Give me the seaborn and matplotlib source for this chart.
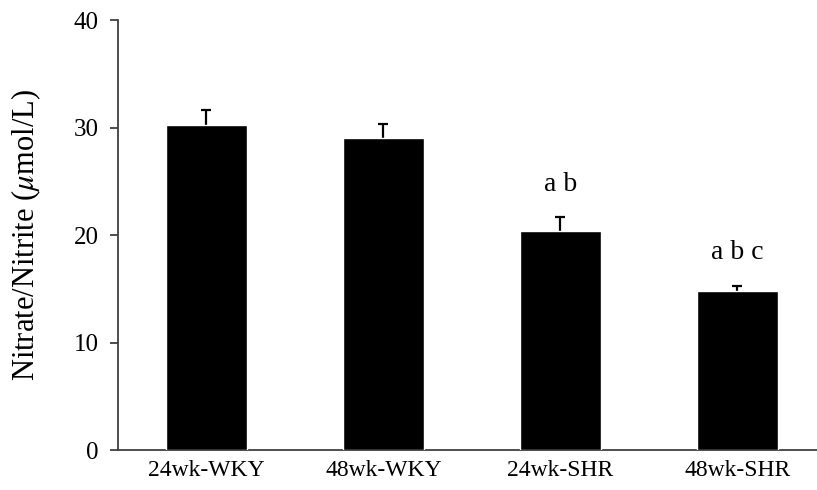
import matplotlib
matplotlib.use("Agg")
import matplotlib.pyplot as plt
import numpy as np
import pandas as pd
import seaborn as sns

groups = ["24wk-WKY", "48wk-WKY", "24wk-SHR", "48wk-SHR"]
means = [30.2, 29.05, 20.4, 14.8]
sems = [1.45, 1.25, 1.3, 0.45]
letters = ["", "", "a b", "a b c"]
letter_y = [0, 0, 24.7, 18.4]

data = pd.DataFrame({"group": groups, "value": means})

sns.set_style("white")
plt.rcParams["font.family"] = ["Liberation Serif", "DejaVu Serif"]
plt.rcParams["mathtext.fontset"] = "stix"
plt.rcParams["text.color"] = "black"
plt.rcParams["axes.labelcolor"] = "black"
plt.rcParams["xtick.color"] = "black"
plt.rcParams["ytick.color"] = "black"

fig = plt.figure(figsize=(8.17, 4.9), dpi=100)
ax = fig.add_axes([0.1444, 0.0816, 0.8556, 0.8775])

sns.barplot(data=data, x="group", y="value", color="black", width=0.46,
            errorbar=None, saturation=1, ax=ax, zorder=3)
# only the upper half of the error bar is shown
eb = ax.errorbar(np.arange(len(groups)), means, yerr=[np.zeros(len(sems)), sems],
                 fmt="none", ecolor="black", elinewidth=1.6, capsize=3.8,
                 capthick=1.6, zorder=1)
eb[1][0].set_visible(False)

for i, (t, yv) in enumerate(zip(letters, letter_y)):
    if t:
        ax.text(i, yv, t, ha="center", va="center", fontsize=20, color="black")

ax.set_ylim(0, 40)
ax.set_xlim(-0.5, 3.45)
ax.set_yticks([0, 10, 20, 30, 40])
ax.set_xlabel("")
ax.set_ylabel(r"Nitrate/Nitrite ($\mu$mol/L)", fontsize=22, labelpad=22)

for s in ["top", "right"]:
    ax.spines[s].set_visible(False)
for s in ["left", "bottom"]:
    ax.spines[s].set_color("#404040")
    ax.spines[s].set_linewidth(1.3)

ax.tick_params(axis="y", direction="out", length=6, width=1.3, color="#404040",
               labelsize=18, pad=8, left=True)
ax.tick_params(axis="x", length=0, labelsize=17, pad=7)

plt.savefig("out.png", dpi=100)
